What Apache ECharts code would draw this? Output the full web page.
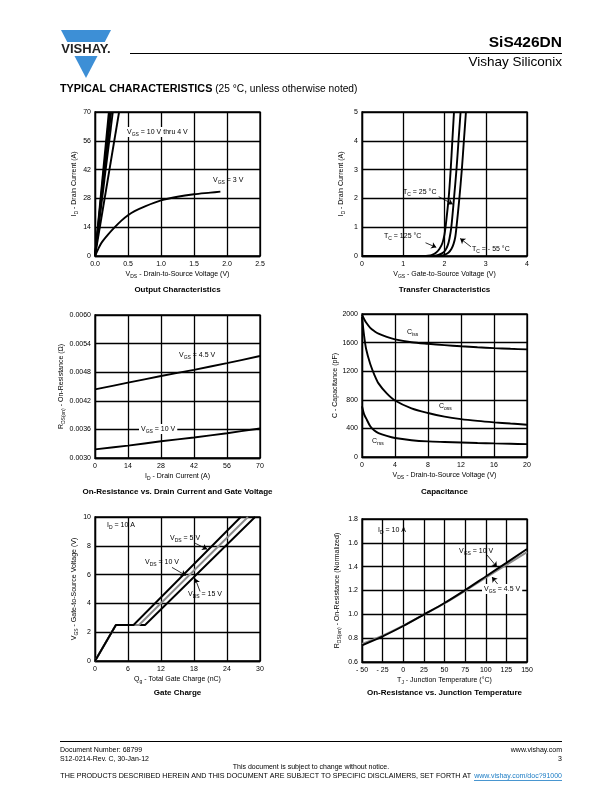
<!DOCTYPE html>
<html><head><meta charset="utf-8">
<script src="https://cdn.jsdelivr.net/npm/echarts@6/dist/echarts.min.js"></script>
<style>html,body{margin:0;padding:0;background:#fff}#c{width:612px;height:792px}</style>
</head><body><div id="c"></div>
<script>
// ---------- DATA ----------
// Output characteristics (VDS [V], ID [A])
const out10V = [[0,0],[0.21,70]];
const out8V  = [[0,0],[0.225,70]];
const out6V  = [[0,0],[0.245,70]];
const out5V  = [[0,0],[0.27,70]];
const out4V  = [[0,0],[0.365,70]];
const out3V  = [[0,0],[0.05,3.5],[0.1,6.5],[0.2,10.5],[0.3,14],[0.4,17.2],[0.5,19.8],[0.6,21.8],[0.75,24],[1.0,27],[1.25,28.8],[1.5,30],[1.75,30.8],[1.9,31.3]];
const outXTicks = ['0.0','0.5','1.0','1.5','2.0','2.5'];
const outYTicks = ['0','14','28','42','56','70'];

// Transfer characteristics (VGS [V], ID [A])
const tr125 = [[0,0],[1.5,0],[1.6,0.01],[1.7,0.04],[1.8,0.12],[1.88,0.25],[1.95,0.45],[2.0,0.75],[2.025,1.0],[2.1,2.0],[2.15,3.0],[2.19,4.0],[2.23,5]];
const tr25  = [[0,0],[1.65,0],[1.75,0.01],[1.85,0.04],[1.95,0.1],[2.02,0.2],[2.08,0.38],[2.12,0.6],[2.165,1.0],[2.23,2.0],[2.29,3.0],[2.34,4.0],[2.39,5]];
const trM55 = [[0,0],[1.8,0],[1.9,0.01],[2.0,0.04],[2.1,0.12],[2.17,0.25],[2.22,0.42],[2.26,0.65],[2.29,1.0],[2.36,2.0],[2.42,3.0],[2.47,4.0],[2.52,5]];
const trXTicks = ['0','1','2','3','4'];
const trYTicks = ['0','1','2','3','4','5'];

// On-resistance vs drain current (ID [A], RDS(on) [ohm])
const ronId = [0,14,28,42,56,70];
const ronVgs45 = [0.00444,0.00458,0.00472,0.00485,0.00499,0.00514];
const ronVgs10 = [0.00318,0.00326,0.00335,0.00343,0.00352,0.00362];
const ronXTicks = ['0','14','28','42','56','70'];
const ronYTicks = ['0.0030','0.0036','0.0042','0.0048','0.0054','0.0060'];

// Capacitance (VDS [V], C [pF])
const capV = [0,0.25,0.5,1,1.5,2,3,4,6,8,10,12,14,16,18,20];
const ciss = [1990,1930,1880,1805,1760,1725,1680,1645,1605,1583,1565,1548,1535,1523,1513,1505];
const coss = [1960,1700,1510,1300,1150,1030,890,790,680,615,565,530,505,485,468,452];
const crss = [710,600,540,430,370,335,295,265,235,218,210,203,196,190,185,180];
const capXTicks = ['0','4','8','12','16','20'];
const capYTicks = ['0','400','800','1200','1600','2000'];

// Gate charge (Qg [nC], VGS [V])
const gc5V  = [[0,0],[3.8,2.5],[7.0,2.5],[26.5,10]];
const gc10V = [[0,0],[3.8,2.5],[8.0,2.5],[27.8,10]];
const gc15V = [[0,0],[3.8,2.5],[9.1,2.5],[29.1,10]];
const gcXTicks = ['0','6','12','18','24','30'];
const gcYTicks = ['0','2','4','6','8','10'];

// On-resistance vs junction temperature (TJ [°C], normalized)
const tjT = [-50,-25,0,25,50,75,100,125,150];
const rtVgs10 = [0.740,0.815,0.902,0.998,1.095,1.203,1.318,1.432,1.548];
const rtVgs45 = [0.752,0.822,0.906,0.998,1.092,1.197,1.307,1.415,1.522];
const tjXTicks = ['- 50','- 25','0','25','50','75','100','125','150'];
const tjYTicks = ['0.6','0.8','1.0','1.2','1.4','1.6','1.8'];

// ---------- STYLE / BUILD ----------
const FONT = '"Liberation Sans", Arial, Helvetica, sans-serif';
const RICH = {
  n: {fontSize: 7, fontFamily: FONT, color: '#000'},
  s: {fontSize: 5, fontFamily: FONT, color: '#000', padding: [5, 0, 0, 0]}
};
const sub = (a, b, c) => `{n|${a}}{s|${b}}{n|${c}}`;

const grids = [
  {left: 95,  top: 112, width: 165, height: 144},
  {left: 362, top: 112, width: 165, height: 144},
  {left: 95,  top: 315, width: 165, height: 143},
  {left: 362, top: 314, width: 165, height: 143},
  {left: 95,  top: 517, width: 165, height: 144},
  {left: 362, top: 519, width: 165, height: 143}
].map(g => Object.assign({show: true, borderColor: '#000', borderWidth: 1.3, backgroundColor: 'transparent'}, g));

function fmt(labels, min, interval) {
  return v => { const i = Math.round((v - min) / interval); return labels[i] !== undefined ? labels[i] : ''; };
}
function xA(i, min, max, interval, labels, name, gap) {
  return {gridIndex: i, type: 'value', min, max, interval,
    axisLine: {show: true, onZero: false, lineStyle: {color: '#000', width: 1.3}},
    axisTick: {show: false},
    splitLine: {show: true, lineStyle: {color: '#000', width: 1.3}},
    axisLabel: {color: '#000', fontSize: 7, fontFamily: FONT, margin: 5, formatter: fmt(labels, min, interval)},
    name, nameLocation: 'middle', nameGap: gap,
    nameTextStyle: {color: '#000', fontSize: 7, fontFamily: FONT, rich: RICH}};
}
function yA(i, min, max, interval, labels, name, gap) {
  const a = xA(i, min, max, interval, labels, name, gap);
  a.axisLabel.margin = 4;
  a.nameRotate = 90;
  return a;
}

const xAxes = [
  xA(0, 0, 2.5, 0.5, outXTicks, sub('V','DS',' - Drain-to-Source Voltage (V)'), 13),
  xA(1, 0, 4, 1, trXTicks, sub('V','GS',' - Gate-to-Source Voltage (V)'), 13),
  xA(2, 0, 70, 14, ronXTicks, sub('I','D',' - Drain Current (A)'), 13),
  xA(3, 0, 20, 4, capXTicks, sub('V','DS',' - Drain-to-Source Voltage (V)'), 13),
  xA(4, 0, 30, 6, gcXTicks, sub('Q','g',' - Total Gate Charge (nC)'), 13),
  xA(5, -50, 150, 25, tjXTicks, sub('T','J',' - Junction Temperature (°C)'), 13)
];
const yAxes = [
  yA(0, 0, 70, 14, outYTicks, sub('I','D',' - Drain Current (A)'), 15),
  yA(1, 0, 5, 1, trYTicks, sub('I','D',' - Drain Current (A)'), 16),
  yA(2, 0.003, 0.006, 0.0006, ronYTicks, sub('R','DS(on)',' - On-Resistance (Ω)'), 25),
  yA(3, 0, 2000, 400, capYTicks, '{n|C - Capacitance (pF)}', 22),
  yA(4, 0, 10, 2, gcYTicks, sub('V','GS',' - Gate-to-Source Voltage (V)'), 15),
  yA(5, 0.6, 1.8, 0.2, tjYTicks, sub('R','DS(on)',' - On-Resistance (Normalized)'), 20)
];

const zip = (xs, ys) => xs.map((x, i) => [x, ys[i]]);
function line(idx, data, o = {}) {
  return Object.assign({type: 'line', xAxisIndex: idx, yAxisIndex: idx, data, showSymbol: false,
    symbol: 'none', silent: true, animation: false, smooth: o.smooth || false,
    lineStyle: {color: o.color || '#000', width: o.width || 1.9}}, o.extra || {});
}
function arrows(list) {
  return {silent: true, symbol: ['none', 'arrow'], symbolSize: 5, animation: false,
    label: {show: false}, lineStyle: {color: '#000', width: 0.8, type: 'solid'},
    data: list.map(p => [{coord: p[0]}, {coord: p[1]}])};
}

const series = [
  line(0, out4V), line(0, out5V), line(0, out6V), line(0, out8V), line(0, out10V),
  line(0, out3V, {smooth: 0.3}),
  line(1, tr125, {smooth: 0.3, extra: {markLine: arrows([[[1.54,0.46],[1.8,0.3]],[[1.86,2.06],[2.2,1.8]],[[2.64,0.32],[2.38,0.61]]])}}),
  line(1, tr25, {smooth: 0.3}),
  line(1, trM55, {smooth: 0.3}),
  line(2, zip(ronId, ronVgs45), {smooth: 0.3}),
  line(2, zip(ronId, ronVgs10), {smooth: 0.3}),
  line(3, zip(capV, ciss), {smooth: 0.3}),
  line(3, zip(capV, coss), {smooth: 0.3}),
  line(3, zip(capV, crss), {smooth: 0.3}),
  line(4, gc15V),
  line(4, gc10V, {color: '#8a8a8a'}),
  line(4, gc5V, {extra: {markLine: arrows([[[18.2,8.18],[20.4,7.76]],[[14.0,6.5],[16.5,5.94]],[[19.1,4.83],[18.2,5.73]]])}}),
  line(5, zip(tjT, rtVgs45), {smooth: 0.3, color: '#8a8a8a'}),
  line(5, zip(tjT, rtVgs10), {smooth: 0.3, extra: {markLine: arrows([[[101.5,1.498],[113.6,1.397]],[[117.3,1.229],[107.6,1.313]]])}})
];

function txt(x, y, text, o = {}) {
  const st = Object.assign({text, fill: o.color || '#000', font: `${o.bold ? 'bold ' : ''}${o.size || 7}px ${FONT}`,
    textAlign: o.align || 'left', textVerticalAlign: 'middle', rich: o.rich || RICH}, o.style || {});
  return {type: 'text', z: 100, x, y, silent: true, style: st};
}
const wbg = {backgroundColor: '#fff', padding: [0, 2, 0, 2]};

const graphics = [
  // logo
  {type: 'polygon', z: 50, shape: {points: [[61,30],[111,30],[104.75,42],[67.25,42]]}, style: {fill: '#3d8fd6'}},
  {type: 'polygon', z: 50, shape: {points: [[74.5,56],[97.5,56],[86,78]]}, style: {fill: '#3d8fd6'}},
  txt(86, 49, 'VISHAY.', {size: 13, bold: true, align: 'center', style: {font: `bold 13px ${FONT}`, fill: '#222'}}),
  // header
  txt(562, 43, 'SiS426DN', {size: 15.5, bold: true, align: 'right'}),
  {type: 'line', z: 50, shape: {x1: 130, y1: 53.5, x2: 562, y2: 53.5}, style: {stroke: '#000', lineWidth: 1}},
  txt(562, 62, 'Vishay Siliconix', {size: 13.5, align: 'right'}),
  txt(60, 89, '{b|TYPICAL CHARACTERISTICS}{r| (25 °C, unless otherwise noted)}', {rich: {
    b: {fontSize: 10.8, fontWeight: 'bold', fontFamily: FONT, color: '#000'},
    r: {fontSize: 10.2, fontFamily: FONT, color: '#000'}}}),
  // chart titles
  txt(177.5, 290, 'Output Characteristics', {bold: true, size: 8, align: 'center'}),
  txt(444.5, 290, 'Transfer Characteristics', {bold: true, size: 8, align: 'center'}),
  txt(177.5, 492, 'On-Resistance vs. Drain Current and Gate Voltage', {bold: true, size: 8, align: 'center'}),
  txt(444.5, 492, 'Capacitance', {bold: true, size: 8, align: 'center'}),
  txt(177.5, 693, 'Gate Charge', {bold: true, size: 8, align: 'center'}),
  txt(444.5, 693, 'On-Resistance vs. Junction Temperature', {bold: true, size: 8, align: 'center'}),
  // annotations
  txt(125, 132, sub('V','GS',' = 10 V thru 4 V'), {style: wbg}),
  txt(213, 180, sub('V','GS',' = 3 V')),
  txt(403, 192, sub('T','C',' = 25 °C')),
  txt(384, 236, sub('T','C',' = 125 °C')),
  txt(472, 249, sub('T','C',' = - 55 °C')),
  txt(179, 355, sub('V','GS',' = 4.5 V')),
  txt(139, 429, sub('V','GS',' = 10 V'), {style: wbg}),
  txt(407, 332, sub('C','iss','')),
  txt(439, 406, sub('C','oss','')),
  txt(372, 441, sub('C','rss','')),
  txt(107, 525, sub('I','D',' = 10 A')),
  txt(170, 538, sub('V','DS',' = 5 V')),
  txt(145, 562, sub('V','DS',' = 10 V')),
  txt(188, 594, sub('V','DS',' = 15 V')),
  txt(378, 530, sub('I','D',' = 10 A')),
  txt(459, 551, sub('V','GS',' = 10 V')),
  txt(482, 589, sub('V','GS',' = 4.5 V'), {style: wbg}),
  // footer
  {type: 'line', z: 50, shape: {x1: 60, y1: 741.5, x2: 562, y2: 741.5}, style: {stroke: '#000', lineWidth: 1}},
  txt(60, 750, 'Document Number: 68799', {size: 7}),
  txt(60, 759, 'S12-0214-Rev. C, 30-Jan-12', {size: 7}),
  txt(562, 750, 'www.vishay.com', {size: 7, align: 'right'}),
  txt(562, 759, '3', {size: 7, align: 'right'}),
  txt(311, 767, 'This document is subject to change without notice.', {size: 7, align: 'center'}),
  txt(471, 776, 'THE PRODUCTS DESCRIBED HEREIN AND THIS DOCUMENT ARE SUBJECT TO SPECIFIC DISCLAIMERS, SET FORTH AT', {size: 7.15, align: 'right'}),
  txt(562, 776, 'www.vishay.com/doc?91000', {size: 7, align: 'right', color: '#1a7bc4'}),
  {type: 'line', z: 50, shape: {x1: 474, y1: 780.5, x2: 562, y2: 780.5}, style: {stroke: '#1a7bc4', lineWidth: 0.8}}
];

const chart = echarts.init(document.getElementById('c'), null, {renderer: 'canvas'});
chart.setOption({
  backgroundColor: '#fff',
  animation: false,
  textStyle: {fontFamily: FONT},
  grid: grids,
  xAxis: xAxes,
  yAxis: yAxes,
  series,
  graphic: graphics
});
</script></body></html>
